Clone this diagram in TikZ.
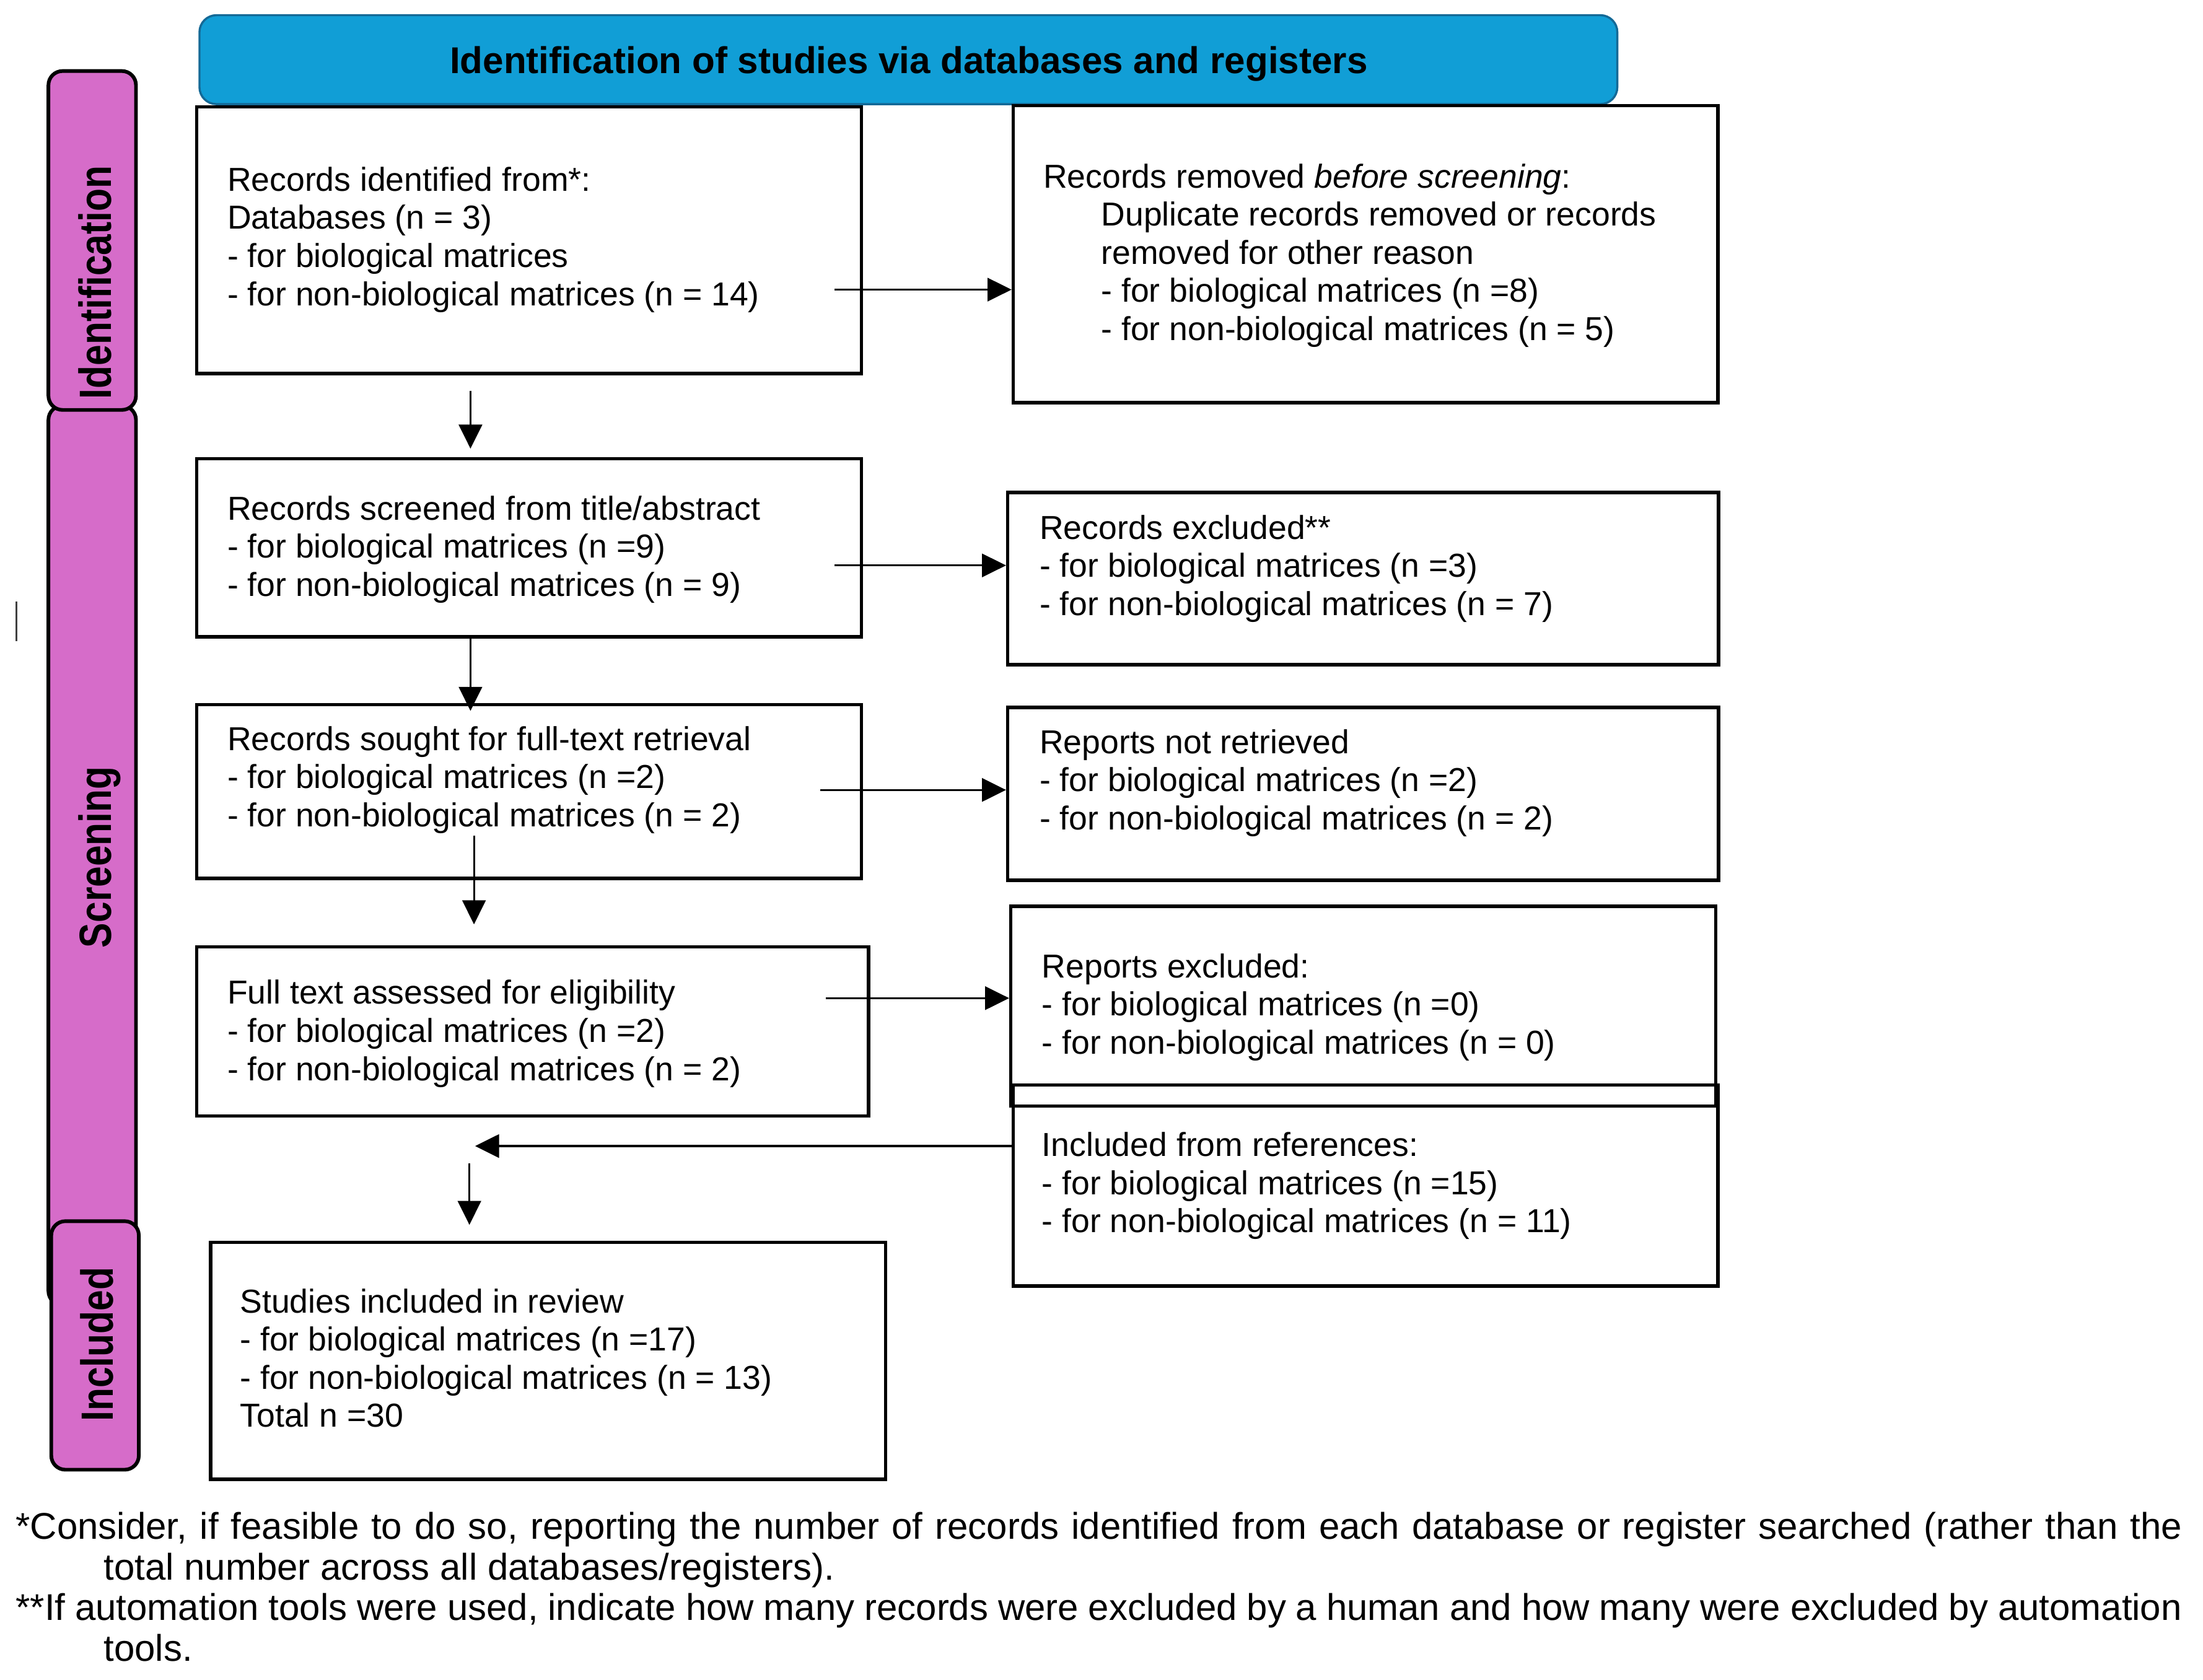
\documentclass[tikz,border=0pt]{standalone}
\usepackage{fontspec}
\usepackage{graphicx}
\setmainfont{Liberation Sans}
\usetikzlibrary{arrows.meta,calc}
\definecolor{hdrblue}{RGB}{17,158,214}
\definecolor{hdrline}{RGB}{20,105,150}
\definecolor{barpink}{RGB}{214,108,201}
\tikzset{
  flowbox/.style={draw=black, line width=2.4pt, inner sep=0pt, anchor=north west},
  sidebar/.style={draw=black, fill=barpink, line width=2.6pt, rounded corners=10pt, inner sep=0pt, anchor=north west, minimum width=62pt},
  sidelabel/.style={rotate=90, inner sep=0pt, text height=23.3pt, text depth=0pt, font=\bfseries\fontsize{32}{36}\selectfont},
  boxtext/.style={anchor=west, align=left, inner sep=0pt, font=\fontsize{23.5}{27}\selectfont},
  foot/.style={anchor=base west, inner sep=0pt, font=\fontsize{26.3}{28.7}\selectfont},
  arr/.style={line width=1.4pt, -{Triangle[length=17pt,width=16.5pt]}},
}
\newcommand{\boxindent}{\hspace*{41pt}}
\begin{document}
\begin{tikzpicture}[x=1pt,y=-1pt]
\useasboundingbox (0,0) rectangle (1560,1189.7);

% phase bars
\node[sidebar, minimum height=637pt] (barS) at (33,286) {};
\node[sidebar, minimum height=240pt] (barI) at (33,49) {};
\node[sidebar, minimum height=176pt] (barC) at (35,863.5) {};
\node[sidelabel] (lblI) at (67,200) {\scalebox{0.83}[1]{Identification}};
\node[sidelabel] (lblS) at (67,607) {\scalebox{0.83}[1]{Screening}};
\node[sidelabel] (lblC) at (68.5,952) {\scalebox{0.83}[1]{Included}};

% stray mark
\draw[line width=1.2pt, black!75] (11.5,426) -- (11.5,454);

% header
\node[draw=hdrline, fill=hdrblue, line width=1.5pt, rounded corners=12pt, anchor=north west, minimum width=1004pt, minimum height=63pt, inner sep=0pt] (hdr) at (140.5,10) {};
\node[anchor=base, inner sep=0pt, font=\bfseries\fontsize{26.4}{30}\selectfont] (ttl) at (643.5,51.9) {Identification of studies via databases and registers};

% boxes
\node[flowbox, minimum width=470.9pt, minimum height=189pt] (b1) at (138,74.4) {};
\node[flowbox, minimum width=499pt, minimum height=210.2pt] (b2) at (716.3,73.7) {};
\node[flowbox, minimum width=470.9pt, minimum height=126pt] (b3) at (138,323.7) {};
\node[flowbox, minimum width=503.4pt, minimum height=122pt] (b4) at (712.4,347.6) {};
\node[flowbox, minimum width=470.9pt, minimum height=123pt] (b5) at (138,497.8) {};
\node[flowbox, minimum width=503.4pt, minimum height=122.4pt] (b6) at (712.4,499.8) {};
\node[flowbox, minimum width=475.9pt, minimum height=119.7pt] (b7) at (138,669.3) {};
\node[flowbox, minimum width=499.1pt, minimum height=141.5pt] (b8) at (714.6,640.6) {};
\node[flowbox, minimum width=499pt, minimum height=142.5pt] (b9) at (716.3,767.1) {};
\node[flowbox, minimum width=478pt, minimum height=167.8pt] (b10) at (148,878.6) {};

% texts
\node[boxtext] (t1) at (160.8,169.7) {Records identified from*:\\Databases (n = 3)\\- for biological matrices\\- for non-biological matrices (n = 14)};
\node[boxtext] (t2) at (738.6,180.9) {Records removed \textit{before screening}:\\\boxindent Duplicate records removed or records\\\boxindent removed for other reason\\\boxindent - for biological matrices (n =8)\\\boxindent - for non-biological matrices (n = 5)};
\node[boxtext] (t3) at (160.8,389.0) {Records screened from title/abstract\\- for biological matrices (n =9)\\- for non-biological matrices (n = 9)};
\node[boxtext] (t4) at (736,402.6) {Records excluded**\\- for biological matrices (n =3)\\- for non-biological matrices (n = 7)};
\node[boxtext] (t5) at (160.8,552.2) {Records sought for full-text retrieval\\- for biological matrices (n =2)\\- for non-biological matrices (n = 2)};
\node[boxtext] (t6) at (736,554.5) {Reports not retrieved\\- for biological matrices (n =2)\\- for non-biological matrices (n = 2)};
\node[boxtext] (t7) at (160.8,732.0) {Full text assessed for eligibility\\- for biological matrices (n =2)\\- for non-biological matrices (n = 2)};
\node[boxtext] (t8) at (737.6,713.3) {Reports excluded:\\- for biological matrices (n =0)\\- for non-biological matrices (n = 0)};
\node[boxtext] (t9) at (737.6,839.8) {Included from references:\\- for biological matrices (n =15)\\- for non-biological matrices (n = 11)};
\node[boxtext] (t10) at (169.8,961.7) {Studies included in review\\- for biological matrices (n =17)\\- for non-biological matrices (n = 13)\\Total n =30};

% arrows
\draw[arr] ($(b1.east)+(-20.2,35)$) coordinate (s1) -- (s1 -| b2.west);
\draw[arr] ($(b1.south)+(-41.5,10.8)$) coordinate (s2) -- ($(s2 |- b3.north)+(0,-6)$);
\draw[arr] ($(b3.east)+(-20.4,12.5)$) coordinate (s3) -- (s3 -| b4.west);
\draw[arr] ($(b3.south)+(-41.5,0)$) coordinate (s4) -- ($(s4 |- b5.north)+(0,5.6)$);
\draw[arr] ($(b5.east)+(-30.4,-1.1)$) coordinate (s5) -- (s5 -| b6.west);
\draw[arr] ($(b5.south)+(-39,-31.2)$) coordinate (s6) -- ($(s6 |- b7.north)+(0,-14.7)$);
\draw[arr] ($(b7.east)+(-31.4,-23.5)$) coordinate (s7) -- (s7 -| b8.west);
\coordinate (m1) at (336.4,811.6);
\draw[arr] (b9.west |- m1) -- (m1);
\coordinate (m2) at (332.4,824);
\draw[arr] (m2) -- ($(m2 |- b10.north)+(0,-11.2)$);

% footnotes
\node[foot] (fn1) at (11,1090.1) {\makebox[1534pt][s]{*Consider, if feasible to do so, reporting the number of records identified from each database or register searched (rather than the}};
\node[foot] (fn2) at (73.3,1118.7) {total number across all databases/registers).};
\node[foot] (fn3) at (11,1147.2) {\makebox[1534pt][s]{**If automation tools were used, indicate how many records were excluded by a human and how many were excluded by automation}};
\node[foot] (fn4) at (73.3,1176.4) {tools.};
\end{tikzpicture}
\end{document}
